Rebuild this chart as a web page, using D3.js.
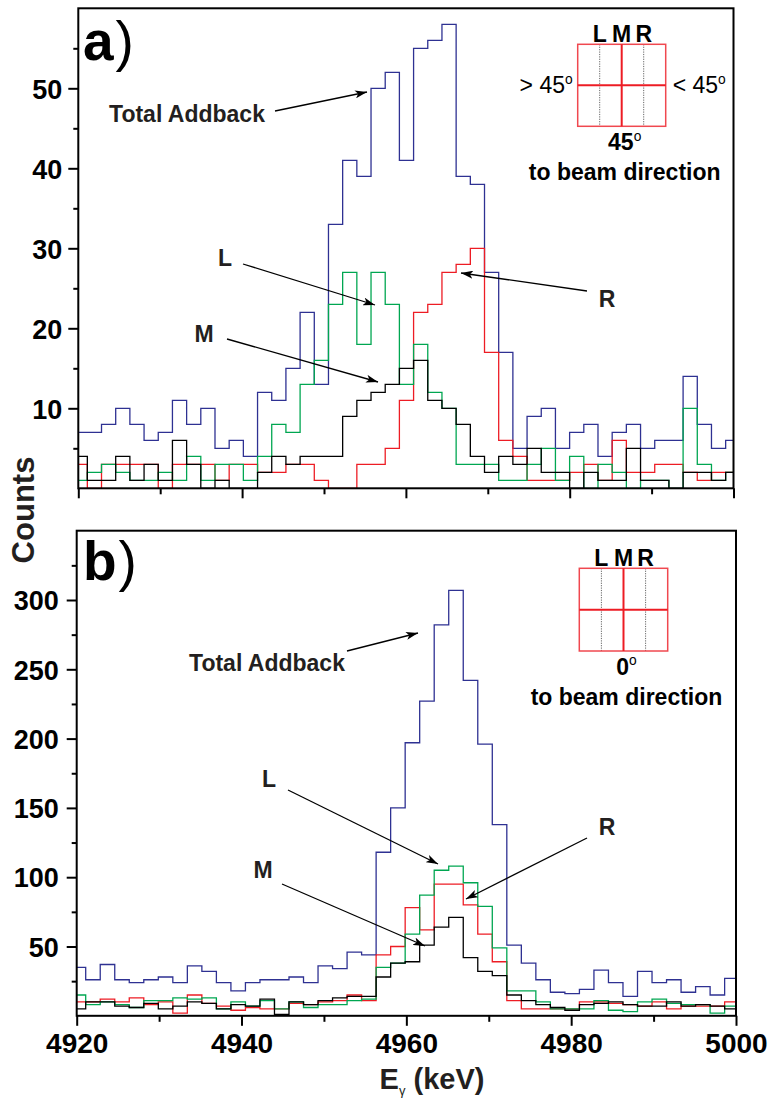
<!DOCTYPE html>
<html>
<head>
<meta charset="utf-8">
<script src="https://cdn.jsdelivr.net/npm/d3@7"></script>
<style>
  html, body { margin: 0; padding: 0; background: #fff; }
  svg { display: block; font-family: "Liberation Sans", Arial, sans-serif; }
</style>
</head>
<body>
<svg id="chart" width="771" height="1101"></svg>
<script>
// ---- Energy binning of the two spectra (keV) ----
const energyRange = [4920, 5000];
const binStartA = 4919.37, binWidthA = 1.732;   // 45 deg spectrum
const binStartB = 4919.33, binWidthB = 1.762;   // 0 deg spectrum

// ---- Panel a: 45 deg to beam direction ----
const totalA = [7, 7, 8, 10, 8, 6, 7, 11, 8, 10, 5, 6, 4, 12, 11, 15, 22, 13, 33, 41, 39, 50, 52, 41,
                55, 56, 58, 39, 38, 27, 17, 5, 9, 10, 5, 7, 8, 4, 7, 8, 5, 6, 6, 14, 8, 5, 6];
const leftA  = [1, 2, 3, 2, 1, 1, 2, 1, 4, 1, 3, 3, 1, 4, 8, 7, 13, 16, 23, 27, 18, 27, 23, 13,
                18, 12, 10, 3, 3, 3, 1, 1, 3, 5, 1, 4, 0, 3, 2, 0, 1, 1, 0, 10, 3, 1, 2];
const midA   = [4, 1, 1, 4, 1, 3, 1, 6, 3, 0, 1, 0, 0, 2, 4, 3, 4, 4, 4, 9, 11, 12, 13, 15,
                16, 11, 10, 8, 4, 2, 4, 3, 5, 2, 2, 0, 2, 1, 1, 5, 1, 1, 0, 2, 2, 1, 2];
const rightA = [3, 0, 3, 3, 3, 3, 0, 3, 3, 3, 1, 3, 3, 2, 2, 3, 3, 1, 0, 0, 3, 3, 5, 11,
                22, 23, 27, 28, 30, 17, 6, 4, 1, 1, 1, 2, 3, 1, 6, 2, 2, 3, 3, 2, 1, 2, 2];

// ---- Panel b: 0 deg to beam direction ----
const totalB = [35, 26, 37, 26, 24, 26, 28, 24, 36, 32, 24, 18, 24, 26, 26, 28, 24, 36, 34, 46, 44, 118, 150,
                197, 227, 282, 307, 242, 196, 138, 51, 38, 26, 17, 16, 19, 33, 24, 14, 32, 24, 26, 17, 21, 15, 27];
const leftB  = [15, 8, 10, 8, 6, 11, 11, 13, 12, 13, 5, 10, 7, 11, 5, 10, 6, 8, 8, 11, 12, 35, 38,
                59, 87, 105, 108, 96, 79, 49, 18, 18, 10, 5, 5, 5, 11, 4, 3, 10, 12, 9, 8, 8, 2, 7];
const midB   = [5, 10, 10, 7, 6, 9, 5, 7, 10, 9, 5, 8, 7, 12, 1, 10, 8, 11, 13, 14, 14, 28, 38,
                39, 51, 64, 71, 42, 32, 29, 15, 11, 8, 6, 4, 8, 9, 10, 8, 7, 7, 10, 7, 8, 7, 5];
const rightB = [10, 10, 12, 10, 13, 8, 10, 2, 15, 9, 7, 4, 6, 5, 5, 9, 8, 10, 11, 15, 11, 44, 50,
                78, 62, 95, 95, 80, 59, 39, 11, 5, 5, 5, 5, 10, 10, 9, 8, 7, 10, 5, 7, 7, 7, 10];

// ---- Axis ticks ----
const xMajorTicks = [4920, 4940, 4960, 4980, 5000];
const xMinorTicks = [4930, 4950, 4970, 4990];
const yMajorTicksA = [10, 20, 30, 40, 50];
const yMinorTicksA = [5, 15, 25, 35, 45, 55];
const yMajorTicksB = [50, 100, 150, 200, 250, 300];
const yMinorTicksB = [25, 75, 125, 175, 225, 275, 325];

const colors = { total: "#2e3192", left: "#00a651", mid: "#000000", right: "#ed1c24" };
const textColor = "#231f20";

const svg = d3.select("#chart");

// arrow head marker
svg.append("defs").append("marker")
  .attr("id", "arrowhead")
  .attr("viewBox", "0 0 12 8")
  .attr("refX", 12).attr("refY", 4)
  .attr("markerWidth", 12).attr("markerHeight", 8)
  .attr("markerUnits", "userSpaceOnUse")
  .attr("orient", "auto")
  .append("path").attr("d", "M0,0 L12,4 L0,8 L3,4 Z").attr("fill", "#000");

function drawPanel(cfg) {
  const g = svg.append("g");
  const x = d3.scaleLinear().domain(energyRange).range(cfg.xRange);
  const y = d3.scaleLinear().domain(cfg.yDomain).range(cfg.yRange);

  const clipId = "clip-" + cfg.id;
  svg.select("defs").append("clipPath").attr("id", clipId)
    .append("rect")
    .attr("x", cfg.xRange[0]).attr("y", cfg.yRange[1])
    .attr("width", cfg.xRange[1] - cfg.xRange[0])
    .attr("height", cfg.yRange[0] - cfg.yRange[1] + 1);

  // step histograms
  const line = d3.line().x(d => x(d[0])).y(d => y(d[1])).curve(d3.curveStepAfter);
  const plot = g.append("g").attr("clip-path", `url(#${clipId})`);
  cfg.series.forEach(s => {
    const pts = s.values.map((v, i) => [cfg.binStart + i * cfg.binWidth, v]);
    pts.push([cfg.binStart + s.values.length * cfg.binWidth, s.values[s.values.length - 1]]);
    plot.append("path")
      .attr("d", line(pts))
      .attr("fill", "none")
      .attr("stroke", s.color)
      .attr("stroke-width", 1.3)
      .attr("stroke-linejoin", "miter");
  });

  // bottom axis
  const xb = cfg.yRange[0];
  const xAxisMajor = d3.axisBottom(x).tickValues(xMajorTicks).tickSize(10).tickPadding(7)
    .tickFormat(cfg.xLabels ? d3.format("d") : "");
  const xAxisMinor = d3.axisBottom(x).tickValues(xMinorTicks).tickSize(6).tickFormat("");
  [xAxisMajor, xAxisMinor].forEach(ax => {
    const a = g.append("g").attr("transform", `translate(0,${xb})`).call(ax);
    a.select(".domain").remove();
    a.selectAll("line").attr("stroke", "#000").attr("stroke-width", 2);
    a.selectAll("text").attr("font-size", 28).attr("font-weight", "bold").attr("fill", "#000")
      .attr("font-family", "'Liberation Sans', Arial, sans-serif");
  });

  // left axis
  const yAxisMajor = d3.axisLeft(y).tickValues(cfg.yMajor).tickSize(10).tickPadding(cfg.yPad)
    .tickFormat(d3.format("d"));
  const yAxisMinor = d3.axisLeft(y).tickValues(cfg.yMinor).tickSize(5).tickFormat("");
  [yAxisMajor, yAxisMinor].forEach(ax => {
    const a = g.append("g").attr("transform", `translate(${cfg.xRange[0]},0)`).call(ax);
    a.select(".domain").remove();
    a.selectAll("line").attr("stroke", "#000").attr("stroke-width", 2);
    a.selectAll("text").attr("font-size", 27).attr("font-weight", "bold").attr("fill", "#000")
      .attr("dy", "0.36em")
      .attr("font-family", "'Liberation Sans', Arial, sans-serif");
  });

  // frame
  g.append("rect")
    .attr("x", cfg.xRange[0]).attr("y", cfg.yRange[1])
    .attr("width", cfg.xRange[1] - cfg.xRange[0])
    .attr("height", cfg.yRange[0] - cfg.yRange[1])
    .attr("fill", "none").attr("stroke", "#000").attr("stroke-width", 2);

  // panel letter
  const pl = g.append("text").attr("x", cfg.letterPos[0]).attr("y", cfg.letterPos[1])
    .attr("font-size", 55).attr("fill", "#000");
  pl.append("tspan").attr("font-weight", "bold").text(cfg.letter);
  pl.append("tspan").attr("font-weight", "normal").attr("dx", 2).text(")");

  // annotations with arrows
  cfg.notes.forEach(n => {
    g.append("text").attr("x", n.tx).attr("y", n.ty)
      .attr("font-size", 23).attr("font-weight", "bold").attr("fill", textColor)
      .attr("text-anchor", n.anchor || "middle")
      .text(n.text);
    g.append("line")
      .attr("x1", n.from[0]).attr("y1", n.from[1])
      .attr("x2", n.to[0]).attr("y2", n.to[1])
      .attr("stroke", "#000").attr("stroke-width", 1.3)
      .attr("marker-end", "url(#arrowhead)");
  });

  // detector segmentation sketch
  const ins = cfg.inset;
  const ig = g.append("g");
  const w = ins.w, h = ins.h;
  const dotted = [ins.x + w * 0.25, ins.x + w * 0.75];
  dotted.forEach(dx => {
    ig.append("line").attr("x1", dx).attr("x2", dx).attr("y1", ins.y).attr("y2", ins.y + h)
      .attr("stroke", "#555").attr("stroke-width", 0.9).attr("stroke-dasharray", "1.2,1.2");
  });
  ig.append("rect").attr("x", ins.x).attr("y", ins.y).attr("width", w).attr("height", h)
    .attr("fill", "none").attr("stroke", "#f0484f").attr("stroke-width", 1.5);
  ig.append("line").attr("x1", ins.x + w / 2).attr("x2", ins.x + w / 2).attr("y1", ins.y).attr("y2", ins.y + h)
    .attr("stroke", "#ed1c24").attr("stroke-width", 2);
  ig.append("line").attr("x1", ins.x).attr("x2", ins.x + w).attr("y1", ins.y + h / 2).attr("y2", ins.y + h / 2)
    .attr("stroke", "#ed1c24").attr("stroke-width", 2);
  [["L", dotted[0]], ["M", ins.x + w / 2], ["R", dotted[1]]].forEach(([t, cx]) => {
    ig.append("text").attr("x", cx).attr("y", ins.y - 2).attr("text-anchor", "middle")
      .attr("font-size", 23).attr("font-weight", "bold").attr("fill", "#000").text(t);
  });
  function degText(xp, yp, anchor, pre, num, weight, size) {
    const t = ig.append("text").attr("x", xp).attr("y", yp).attr("text-anchor", anchor)
      .attr("font-size", size).attr("font-weight", weight).attr("fill", "#000");
    t.append("tspan").text(pre + num);
    t.append("tspan").attr("font-size", size * 0.6).attr("dy", -size * 0.42).attr("font-weight", "normal").text("o");
    return t;
  }
  if (ins.sides) {
    degText(ins.x - 5, ins.y + h / 2 + 8, "end", "> ", ins.sides, "normal", 23);
    degText(ins.x + w + 7, ins.y + h / 2 + 8, "start", "< ", ins.sides, "normal", 23);
  }
  degText(ins.x + w / 2 + 3, ins.y + h + 24, "middle", "", ins.angle, "bold", 23);
  ig.append("text").attr("x", ins.x + w / 2 + 3).attr("y", ins.y + h + 54).attr("text-anchor", "middle")
    .attr("font-size", 23).attr("font-weight", "bold").attr("fill", "#000").text("to beam direction");
}

drawPanel({
  id: "a",
  xRange: [78.3, 733.5], yRange: [488.3, 8.3], yDomain: [0, 60],
  binStart: binStartA, binWidth: binWidthA,
  yMajor: yMajorTicksA, yMinor: yMinorTicksA, yPad: 6,
  xLabels: false,
  letter: "a", letterPos: [83, 60],
  series: [
    { values: totalA, color: colors.total },
    { values: rightA, color: colors.right },
    { values: leftA, color: colors.left },
    { values: midA, color: colors.mid }
  ],
  notes: [
    { text: "Total Addback", tx: 187, ty: 122, from: [275, 111], to: [367, 92] },
    { text: "L", tx: 225, ty: 266, from: [243, 264], to: [375, 305] },
    { text: "M", tx: 204, ty: 342, from: [227, 339], to: [378, 382] },
    { text: "R", tx: 607, ty: 307, from: [587, 291], to: [461, 273] }
  ],
  inset: { x: 577.7, y: 44.3, w: 88, h: 82, sides: "45", angle: "45" }
});

drawPanel({
  id: "b",
  xRange: [76.7, 736], yRange: [1015.8, 530.7], yDomain: [0, 350],
  binStart: binStartB, binWidth: binWidthB,
  yMajor: yMajorTicksB, yMinor: yMinorTicksB, yPad: 8,
  xLabels: true,
  letter: "b", letterPos: [83, 580],
  series: [
    { values: totalB, color: colors.total },
    { values: rightB, color: colors.right },
    { values: leftB, color: colors.left },
    { values: midB, color: colors.mid }
  ],
  notes: [
    { text: "Total Addback", tx: 267, ty: 671, from: [347, 651], to: [418, 633] },
    { text: "L", tx: 269, ty: 787, from: [288, 790], to: [438, 864] },
    { text: "M", tx: 263, ty: 878, from: [282, 884], to: [425, 946] },
    { text: "R", tx: 607, ty: 835, from: [587, 838], to: [466, 899] }
  ],
  inset: { x: 579.3, y: 568.3, w: 88.4, h: 82.7, sides: null, angle: "0" }
});

// shared axis titles
svg.append("text")
  .attr("transform", "translate(34,510) rotate(-90)")
  .attr("text-anchor", "middle")
  .attr("font-size", 31).attr("font-weight", "bold").attr("fill", textColor)
  .text("Counts");

const xt = svg.append("text").attr("x", 432).attr("y", 1089).attr("text-anchor", "middle")
  .attr("font-size", 29).attr("font-weight", "bold").attr("fill", textColor);
xt.append("tspan").text("E");
xt.append("tspan").attr("font-size", 13).attr("font-weight", "normal").attr("dy", 6).text("γ");
xt.append("tspan").attr("dy", -6).text(" (keV)");
</script>
</body>
</html>
